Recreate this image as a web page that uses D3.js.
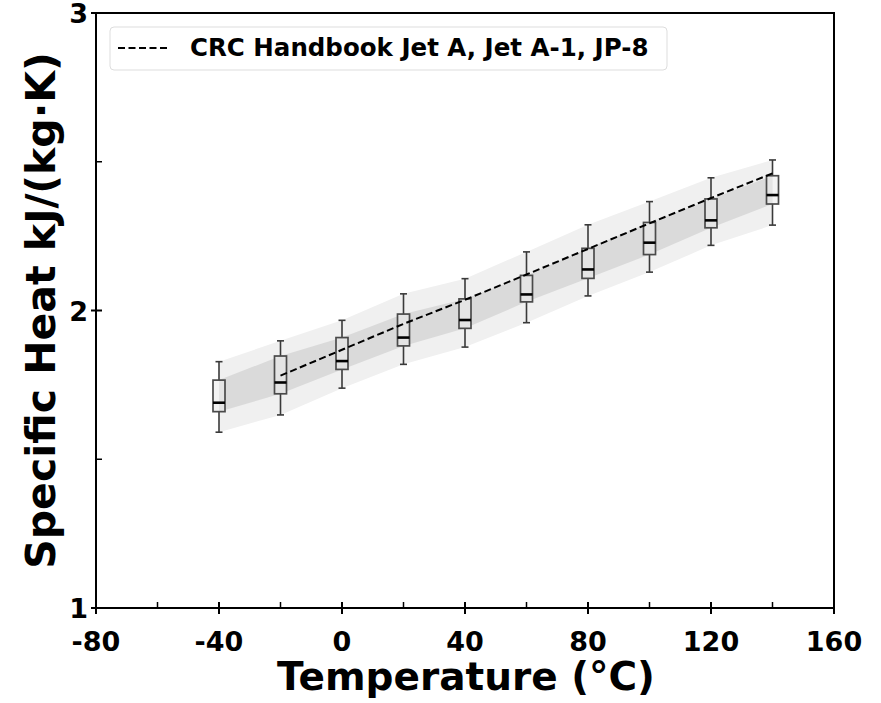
<!DOCTYPE html>
<html>
<head>
<meta charset="utf-8">
<script src="https://cdn.jsdelivr.net/npm/d3@7/dist/d3.min.js"></script>
<style>
  body { margin: 0; background: #fff; }
  text { font-family: "DejaVu Sans", sans-serif; font-weight: bold; }
</style>
</head>
<body>
<svg id="chart" width="881" height="703"></svg>
<script>
// box positions (temperature, C)
const temps = [-40, -20, 0, 20, 40, 60, 80, 100, 120, 140]
// box plot stats
const whiskLo = [1.591, 1.649, 1.739, 1.819, 1.877, 1.959, 2.049, 2.129, 2.219, 2.287]
const q1      = [1.660, 1.720, 1.802, 1.881, 1.940, 2.029, 2.108, 2.188, 2.278, 2.358]
const med     = [1.690, 1.758, 1.830, 1.909, 1.968, 2.054, 2.138, 2.228, 2.303, 2.388]
const q3      = [1.766, 1.847, 1.909, 1.988, 2.039, 2.118, 2.209, 2.296, 2.375, 2.453]
const whiskHi = [1.828, 1.898, 1.967, 2.056, 2.107, 2.197, 2.288, 2.366, 2.446, 2.506]

// CRC handbook line
const crcT = [-20, 0, 20, 40, 60, 80, 100, 120, 140]
const crcCp = [1.781, 1.868, 1.955, 2.036, 2.121, 2.207, 2.293, 2.378, 2.461]

const xTicks = [-80, -40, 0, 40, 80, 120, 160]
const xMinor = [-60, -20, 20, 60, 100, 140]
const yTicks = [1, 2, 3]
const yMinor = [1.5, 2.5]

const L = 96, R = 834, T = 13, B = 608
const svg = d3.select('#chart')

let x = d3.scaleLinear().domain([-80, 160]).range([L, R])
let y = d3.scaleLinear().domain([1, 3]).range([B, T])

let rows = temps.map(function(t, i){
  return {t: t, wl: whiskLo[i], q1: q1[i], m: med[i], q3: q3[i], wh: whiskHi[i]}
})

// bands
let outer = d3.area().x(d => x(d.t)).y0(d => y(d.wl)).y1(d => y(d.wh))
let inner = d3.area().x(d => x(d.t)).y0(d => y(d.q1)).y1(d => y(d.q3))
svg.append('path').attr('d', outer(rows)).attr('fill', '#f0f0f0')
svg.append('path').attr('d', inner(rows)).attr('fill', '#dadada')

// boxes
let bw = 12, cw = 7
let g = svg.selectAll('.box').data(rows).enter().append('g').attr('class', 'box')
g.append('line')
  .attr('x1', d => x(d.t)).attr('x2', d => x(d.t))
  .attr('y1', d => y(d.wh)).attr('y2', d => y(d.q3))
  .attr('stroke', '#3a3a3a').attr('stroke-width', 1.6)
g.append('line')
  .attr('x1', d => x(d.t)).attr('x2', d => x(d.t))
  .attr('y1', d => y(d.q1)).attr('y2', d => y(d.wl))
  .attr('stroke', '#3a3a3a').attr('stroke-width', 1.6)
g.append('line')
  .attr('x1', d => x(d.t) - cw/2).attr('x2', d => x(d.t) + cw/2)
  .attr('y1', d => y(d.wh)).attr('y2', d => y(d.wh))
  .attr('stroke', '#3a3a3a').attr('stroke-width', 1.6)
g.append('line')
  .attr('x1', d => x(d.t) - cw/2).attr('x2', d => x(d.t) + cw/2)
  .attr('y1', d => y(d.wl)).attr('y2', d => y(d.wl))
  .attr('stroke', '#3a3a3a').attr('stroke-width', 1.6)
g.append('rect')
  .attr('x', d => x(d.t) - bw/2).attr('width', bw)
  .attr('y', d => y(d.q3)).attr('height', d => y(d.q1) - y(d.q3))
  .attr('fill', 'rgba(235,235,235,0.6)')
  .attr('stroke', '#4a4a4a').attr('stroke-width', 1.7)
g.append('line')
  .attr('x1', d => x(d.t) - bw/2).attr('x2', d => x(d.t) + bw/2)
  .attr('y1', d => y(d.m)).attr('y2', d => y(d.m))
  .attr('stroke', '#000').attr('stroke-width', 2.6)

// CRC line
let line = d3.line().x((d, i) => x(crcT[i])).y(d => y(d))
svg.append('path').attr('d', line(crcCp))
  .attr('fill', 'none').attr('stroke', '#000')
  .attr('stroke-width', 2).attr('stroke-dasharray', '7,3.5')

// frame
svg.append('rect').attr('x', L).attr('y', T).attr('width', R - L).attr('height', B - T)
  .attr('fill', 'none').attr('stroke', '#000').attr('stroke-width', 2)

// ticks
svg.selectAll('.xt').data(xTicks).enter().append('line')
  .attr('x1', d => x(d)).attr('x2', d => x(d)).attr('y1', B - 6).attr('y2', B + 6)
  .attr('stroke', '#000').attr('stroke-width', 2)
svg.selectAll('.xm').data(xMinor).enter().append('line')
  .attr('x1', d => x(d)).attr('x2', d => x(d)).attr('y1', B - 6).attr('y2', B)
  .attr('stroke', '#000').attr('stroke-width', 1.5)
svg.selectAll('.yt').data(yTicks).enter().append('line')
  .attr('x1', L - 5).attr('x2', L + 6).attr('y1', d => y(d)).attr('y2', d => y(d))
  .attr('stroke', '#000').attr('stroke-width', 2)
svg.selectAll('.ym').data(yMinor).enter().append('line')
  .attr('x1', L).attr('x2', L + 6).attr('y1', d => y(d)).attr('y2', d => y(d))
  .attr('stroke', '#000').attr('stroke-width', 1.5)

svg.selectAll('.xl').data(xTicks).enter().append('text')
  .attr('x', d => x(d)).attr('y', 651).attr('text-anchor', 'middle')
  .attr('font-size', 27).text(d => d)
svg.selectAll('.yl').data(yTicks).enter().append('text')
  .attr('x', 88).attr('y', d => y(d) + 10).attr('text-anchor', 'end')
  .attr('font-size', 27).text(d => d)

// axis titles
svg.append('text').attr('x', 466).attr('y', 690).attr('text-anchor', 'middle')
  .attr('font-size', 39).text('Temperature (°C)')
svg.append('text').attr('transform', 'translate(55,' + ((T + B) / 2) + ') rotate(-90)')
  .attr('text-anchor', 'middle').attr('font-size', 41).text('Specific Heat kJ/(kg·K)')

// legend
svg.append('rect').attr('x', 110).attr('y', 27).attr('width', 557).attr('height', 43)
  .attr('rx', 4).attr('fill', '#fff').attr('stroke', '#ddd').attr('stroke-width', 1)
svg.append('line').attr('x1', 118).attr('x2', 170).attr('y1', 48).attr('y2', 48)
  .attr('stroke', '#000').attr('stroke-width', 2).attr('stroke-dasharray', '7,3.5')
svg.append('text').attr('x', 190).attr('y', 56).attr('font-size', 24.5)
  .text('CRC Handbook Jet A, Jet A-1, JP-8')
</script>
</body>
</html>
